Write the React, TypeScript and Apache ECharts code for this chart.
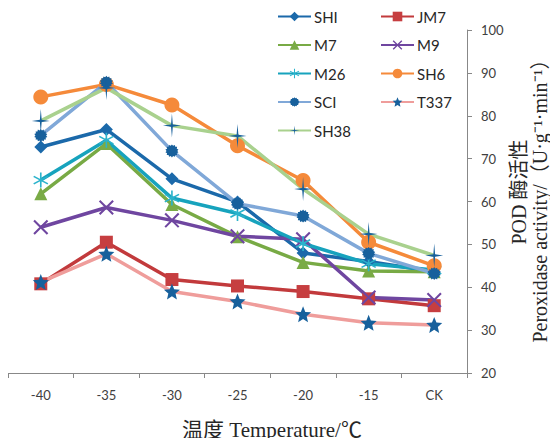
import React, { useEffect, useRef } from "react";
import * as echarts from "echarts";

const categories = ["-40", "-35", "-30", "-25", "-20", "-15", "CK"];
const yTicks = { min: 20, max: 100, interval: 10 };

const SHI = [72.7, 76.8, 65.3, 59.9, 48.0, 46.0, 43.6];
const JM7 = [40.8, 50.5, 41.8, 40.3, 39.0, 37.3, 35.7];
const M7 = [61.8, 73.5, 59.3, 51.8, 45.8, 43.8, 43.6];
const M9 = [54.0, 58.6, 55.6, 51.9, 51.2, 37.6, 37.0];
const M26 = [65.0, 74.3, 60.8, 57.2, 50.2, 45.5, 44.0];
const SH6 = [84.4, 87.3, 82.5, 73.0, 64.9, 50.5, 45.0];
const SCI = [75.4, 87.8, 71.8, 59.5, 56.6, 47.9, 43.2];
const T337 = [41.2, 47.8, 39.0, 36.7, 33.7, 31.7, 31.2];
const SH38 = [78.8, 86.5, 77.7, 75.3, 62.9, 52.4, 47.4];

function starPath(n: number, rOuter: number, rInner: number) {
  const pts: string[] = [];
  for (let i = 0; i < n * 2; i++) {
    const r = i % 2 === 0 ? rOuter : rInner;
    const a = -Math.PI / 2 + (i * Math.PI) / n;
    pts.push(`${(r * Math.cos(a)).toFixed(3)},${(r * Math.sin(a)).toFixed(3)}`);
  }
  return "path://M" + pts.join("L") + "Z";
}

function barsPath(angles: number[], len: number, thick: number) {
  const parts: string[] = [];
  for (const deg of angles) {
    const a = (deg * Math.PI) / 180;
    const c = Math.cos(a), s = Math.sin(a);
    const hl = len / 2, ht = thick / 2;
    const corners = [
      [-hl, -ht],
      [hl, -ht],
      [hl, ht],
      [-hl, ht],
    ].map(([x, y]) => `${(x * c - y * s).toFixed(3)},${(x * s + y * c).toFixed(3)}`);
    parts.push("M" + corners.join("L") + "Z");
  }
  return "path://" + parts.join("");
}

const markerBlue = "#17609c";

type Spec = {
  name: string;
  data: number[];
  line: string;
  marker: string;
  symbol: string;
  size: number | number[];
};

const specs: Spec[] = [
  { name: "SHI", data: SHI, line: "#1b69aa", marker: "#1b69aa", symbol: "diamond", size: 13 },
  { name: "JM7", data: JM7, line: "#c23a3c", marker: "#c63e40", symbol: "rect", size: 13 },
  { name: "M7", data: M7, line: "#78aa45", marker: "#7aab46", symbol: "triangle", size: 13 },
  { name: "M9", data: M9, line: "#6f46a0", marker: "#6f46a0", symbol: barsPath([45, -45], 10, 1.1), size: 15 },
  { name: "M26", data: M26, line: "#17a3bd", marker: "#2bb3cc", symbol: barsPath([90, 30, -30], 10, 1.0), size: 15 },
  { name: "SH6", data: SH6, line: "#f58a3a", marker: "#f58a3a", symbol: "circle", size: 15 },
  { name: "SCI", data: SCI, line: "#80a8d8", marker: markerBlue, symbol: starPath(14, 1, 0.8), size: 13 },
  { name: "T337", data: T337, line: "#ef9d9b", marker: markerBlue, symbol: starPath(5, 1, 0.45), size: 16 },
  { name: "SH38", data: SH38, line: "#a9d18e", marker: markerBlue, symbol: starPath(4, 1, 0.14), size: [18, 24] },
];

const leftLegend = ["SHI", "M7", "M26", "SCI", "SH38"];
const rightLegend = ["JM7", "M9", "SH6", "T337"];

export default function App() {
  const ref = useRef<HTMLDivElement>(null);
  useEffect(() => {
    if (!ref.current) return;
    const chart = echarts.init(ref.current, null, { renderer: "svg" });
    const legendBase = {
      orient: "vertical" as const,
      top: 4,
      itemWidth: 33,
      itemHeight: 12,
      itemGap: 13.5,
      textStyle: { fontFamily: "Lato", fontSize: 15, color: "#262626", padding: [0, 0, 0, -2] },
    };
    const serif = "Liberation Serif, Noto Sans CJK SC, serif";
    chart.setOption({
      animation: false,
      backgroundColor: "#ffffff",
      grid: { left: 8, right: 91, top: 30, bottom: 73, containLabel: false },
      legend: [
        { ...legendBase, left: 272, data: leftLegend },
        { ...legendBase, left: 375, data: rightLegend },
      ],
      xAxis: {
        type: "category",
        data: categories,
        boundaryGap: true,
        axisLine: { lineStyle: { color: "#888888", width: 1 } },
        axisTick: { show: true, length: 5, lineStyle: { color: "#888888" } },
        axisLabel: { fontFamily: "Lato", fontSize: 13, color: "#404040", margin: 15 },
        splitLine: { show: false },
      },
      yAxis: {
        type: "value",
        position: "right",
        min: yTicks.min,
        max: yTicks.max,
        interval: yTicks.interval,
        axisLine: { show: true, lineStyle: { color: "#888888", width: 1 } },
        axisTick: { show: true, length: 5, lineStyle: { color: "#888888" } },
        axisLabel: { fontFamily: "Lato", fontSize: 13, color: "#404040", margin: 14 },
        splitLine: { show: false },
      },
      graphic: [
        {
          type: "text",
          x: 272,
          y: 430,
          style: {
            text: "温度 Temperature/℃",
            fontFamily: serif,
            fontSize: 21,
            fill: "#262626",
            align: "center",
            verticalAlign: "middle",
          },
        },
        {
          type: "text",
          x: 519,
          y: 192,
          rotation: Math.PI / 2,
          style: {
            text: "POD 酶活性",
            fontFamily: serif,
            fontSize: 20,
            fill: "#262626",
            align: "center",
            verticalAlign: "middle",
          },
        },
        {
          type: "text",
          x: 540,
          y: 196,
          rotation: Math.PI / 2,
          style: {
            text: "Peroxidase activity/（U·g⁻¹·min⁻¹）",
            fontFamily: serif,
            fontSize: 20,
            fill: "#262626",
            align: "center",
            verticalAlign: "middle",
          },
        },
      ],
      series: specs.map((s) => ({
        name: s.name,
        type: "line",
        data: s.data,
        symbol: s.symbol,
        symbolSize: s.size,
        showAllSymbol: true,
        lineStyle: { color: s.line, width: 3.5 },
        itemStyle: { color: s.marker, borderWidth: 0 },
        emphasis: { disabled: true },
      })),
    });
    return () => chart.dispose();
  }, []);
  return <div ref={ref} style={{ width: 558, height: 446, margin: -8 }} />;
}
